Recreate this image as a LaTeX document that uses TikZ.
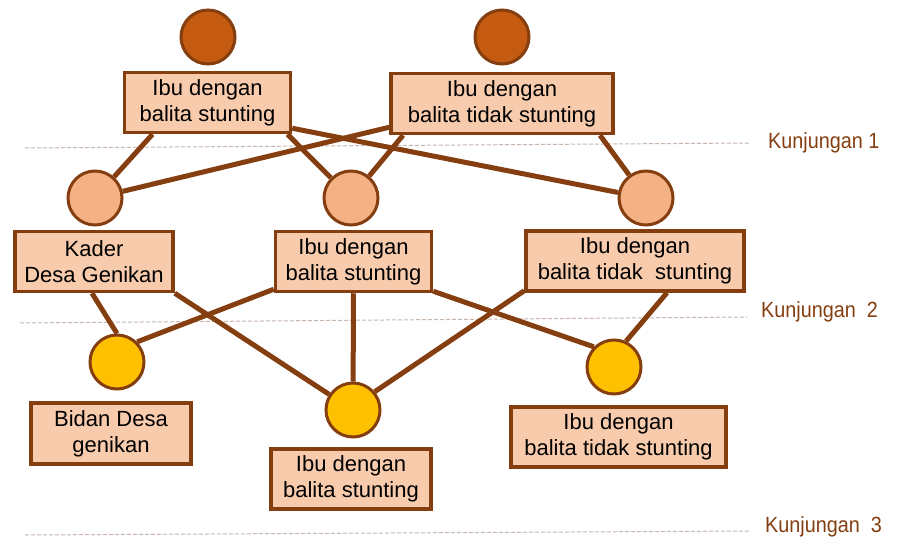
\documentclass[tikz,border=0pt]{standalone}
\usepackage{fontspec}
\setmainfont{Liberation Sans}
\usetikzlibrary{backgrounds}
\definecolor{linkbrown}{RGB}{133,62,15}
\definecolor{boxfill}{HTML}{F8CBAD}
\definecolor{topfill}{HTML}{C55A11}
\definecolor{midfill}{HTML}{F4B183}
\definecolor{lowfill}{HTML}{FFC000}
\definecolor{guide}{RGB}{200,182,172}
\newcommand{\narrowlabel}[1]{\scalebox{0.9}[1]{#1}}
\begin{document}
\begin{tikzpicture}[x=1pt,y=-1pt,
  rolebox/.style={draw=linkbrown, line width=3.5pt, fill=boxfill, inner sep=0pt,
    align=center, font=\fontsize{22}{26}\selectfont, minimum height=60pt},
  person/.style={circle, draw=linkbrown, line width=3pt, minimum size=54pt, inner sep=0pt},
  link/.style={draw=linkbrown, line width=5pt},
  guideline/.style={draw=guide, line width=1pt, dash pattern=on 4pt off 2pt},
  visit/.style={anchor=west, text=linkbrown, inner sep=0pt, font=\fontsize{22}{26}\selectfont}
]
\useasboundingbox (0,0) rectangle (903,541);

% first visit: the two starting mothers
\node[person, fill=topfill] (tc1) at (208,37) {};
\node[person, fill=topfill] (tc2) at (502,37) {};
\node[rolebox, minimum width=166pt] (tb1) at (207.5,102.5) {Ibu dengan\\balita stunting};
\node[rolebox, minimum width=222pt] (tb2) at (502,103.5) {Ibu dengan\\balita tidak stunting};

% second visit
\node[person, fill=midfill] (mc1) at (95,198) {};
\node[person, fill=midfill] (mc2) at (351,198) {};
\node[person, fill=midfill] (mc3) at (646,198) {};
\node[rolebox, minimum width=158pt] (mb1) at (94,261.5) {Kader\\Desa Genikan};
\node[rolebox, minimum width=156pt] (mb2) at (353.5,261.5) {Ibu dengan\\balita stunting};
\node[rolebox, minimum width=218pt] (mb3) at (635,261) {Ibu dengan\\balita tidak~~stunting};

% third visit
\node[person, fill=lowfill] (bc1) at (117,362) {};
\node[person, fill=lowfill] (bc2) at (353,410) {};
\node[person, fill=lowfill] (bc3) at (614,367) {};
\node[rolebox, minimum width=160pt, minimum height=61pt] (bb1) at (111,433.5) {Bidan Desa\\genikan};
\node[rolebox, minimum width=160pt] (bb2) at (351,479) {Ibu dengan\\balita stunting};
\node[rolebox, minimum width=215pt] (bb3) at (618.5,437) {Ibu dengan\\balita tidak stunting};

% visit labels
\node[visit] (k1) at (768,143) {\narrowlabel{Kunjungan 1}};
\node[visit] (k2) at (761,312) {\narrowlabel{Kunjungan~~2}};
\node[visit] (k3) at (765,527) {\narrowlabel{Kunjungan~~3}};

\begin{pgfonlayer}{background}
  % separators between the visits
  \draw[guideline] (25,148) -- (750,143);
  \draw[guideline] (20,323) -- (747,317);
  \draw[guideline] (25,535) -- (750,531);

  % first visit -> second visit
  \draw[link] ([xshift=-55pt]tb1.south) -- (mc1);
  \draw[link] ([xshift=80pt]tb1.south) -- (mc2);
  \draw[link] ([yshift=6pt]tb1.south east) -- (mc3);
  \draw[link] ([yshift=8pt]tb2.south west) -- (mc1);
  \draw[link] ([xshift=-99pt]tb2.south) -- (mc2);
  \draw[link] ([xshift=98pt]tb2.south) -- (mc3);

  % second visit -> third visit
  \draw[link] ([xshift=-2pt]mb1.south) -- (bc1.north);
  \draw[link] (mb1.south east) -- (bc2);
  \draw[link] ([yshift=4pt]mb2.south west) -- (bc1.45);
  \draw[link] (mb2.south) -- (bc2);
  \draw[link] ([yshift=2pt]mb2.south east) -- (bc3.135);
  \draw[link] ([yshift=2pt]mb3.south west) -- (bc2.40);
  \draw[link] ([xshift=32pt]mb3.south) -- (bc3.65);
\end{pgfonlayer}
\end{tikzpicture}
\end{document}
